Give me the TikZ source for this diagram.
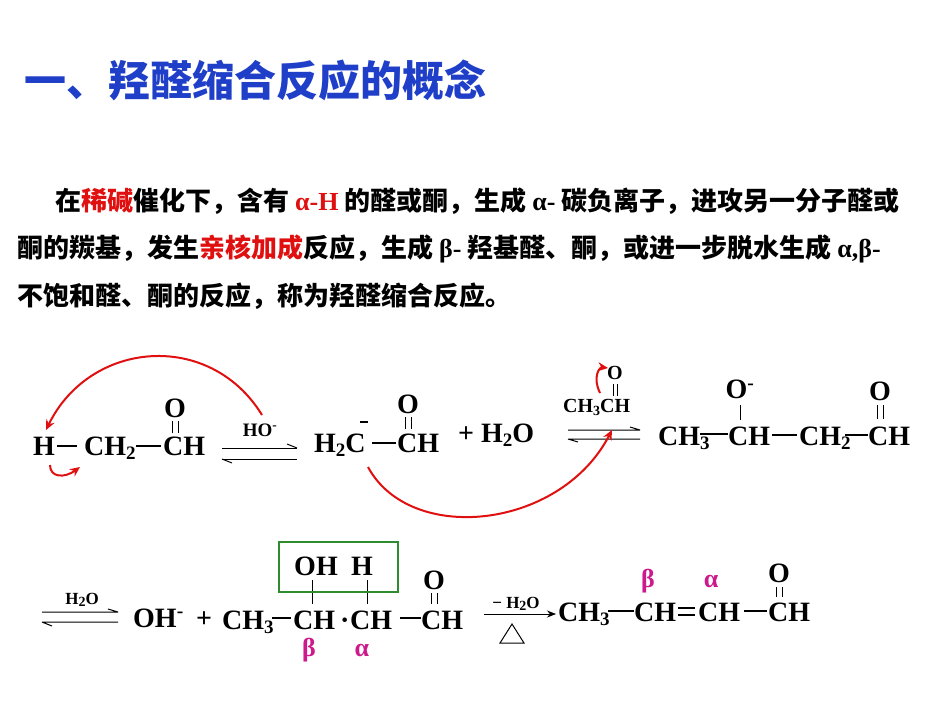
\documentclass[tikz,border=0pt]{standalone}
\usepackage{fontspec}
\setmainfont{Liberation Serif}
\newfontfamily\cjk{Noto Sans CJK SC}
\usetikzlibrary{arrows.meta}
\definecolor{ttl}{HTML}{1F3FC8}
\definecolor{rd}{HTML}{E01010}
\definecolor{mg}{HTML}{CC1A8C}
\definecolor{gbox}{HTML}{2E8B2E}
\newcommand{\lsub}[1]{\raisebox{-0.35ex}{\fontsize{19}{19}\selectfont #1}}
\newcommand{\ssub}[1]{\raisebox{-0.35ex}{\fontsize{14}{14}\selectfont #1}}
\begin{document}
\begin{tikzpicture}[x=1pt,y=-1pt,
  f/.style={anchor=base west,inner sep=0pt,font=\fontsize{28}{28}\selectfont\bfseries},
  fc/.style={anchor=center,inner sep=0pt,font=\fontsize{28}{28}\selectfont\bfseries},
  gr/.style={anchor=center,inner sep=0pt,font=\fontsize{26}{26}\selectfont\bfseries,text=mg},
  para/.style={anchor=base west,inner sep=0pt,font=\cjk\fontsize{26}{26}\selectfont\bfseries},
  bd/.style={line width=2pt},
  thin/.style={line width=1pt},
  rarr/.style={rd,line width=2pt,-{Stealth[length=10pt,width=9pt]}}]
\useasboundingbox (0,0) rectangle (950,713);
\fill[white] (0,0) rectangle (950,713);
\node[anchor=base west,inner sep=0pt,text=ttl,font=\cjk\fontsize{42}{42}\selectfont\bfseries] (title) at (24,96) {一、羟醛缩合反应的概念};
\node[para] (p1) at (55,210) {在\textcolor{rd}{稀碱}催化下，含有 \textcolor{rd}{\rmfamily α-H} 的醛或酮，生成 {\rmfamily α-} 碳负离子，进攻另一分子醛或};
\node[para] (p2) at (17,257) {酮的羰基，发生\textcolor{rd}{亲核加成}反应，生成 {\rmfamily β-} 羟基醛、酮，或进一步脱水生成 {\rmfamily α,β-}};
\node[para] (p3) at (17,305) {不饱和醛、酮的反应，称为羟醛缩合反应。};
% row 1
\node[f] (h1) at (33,455) {H};
\draw[bd] (57,446) -- (77,446);
\node[f] (ch2a) at (84,455) {CH\lsub{2}};
\draw[bd] (136,446) -- (161,446);
\node[f] (cha) at (163,455) {CH};
\node[fc] (oa) at (175,408) {O};
\draw[thin] (172,421) -- (172,433) (178,421) -- (178,433);
\node[anchor=base,inner sep=0pt,font=\fontsize{19}{19}\selectfont\bfseries] (ho) at (260,436) {HO\textsuperscript{-}};
\draw[thin] (222,448) -- (297,448);
\draw[thin] (287,444) -- (297,448);
\draw[thin] (222,459) -- (297,459);
\draw[thin] (222,459) -- (232,463);
\node[f] (h2c) at (314,452) {H\lsub{2}C};
\draw[bd] (360,422) -- (368,422);
\draw[bd] (372,443) -- (396,443);
\node[f] (chb) at (397,452) {CH};
\node[fc] (ob) at (408,404) {O};
\draw[thin] (405,417) -- (405,429) (411,417) -- (411,429);
\node[f] (h2o) at (458,442) {+ H\lsub{2}O};
\node[anchor=base west,inner sep=0pt,font=\fontsize{20}{20}\selectfont\bfseries] (ch3ch) at (563,412) {CH\ssub{3}CH};
\node[anchor=center,inner sep=0pt,font=\fontsize{20}{20}\selectfont\bfseries] (oc) at (615,373) {O};
\draw[thin] (613,384) -- (613,396) (617,384) -- (617,396);
\draw[thin] (568,430) -- (640,430) (630,427) -- (640,430);
\draw[thin] (568,439) -- (640,439) (568,439) -- (578,442);
\node[f] (ch3b) at (658,445) {CH\lsub{3}};
\draw[bd] (700,434) -- (728,434);
\node[f] (chc) at (728,445) {CH};
\node[fc] (om) at (740,389) {O\textsuperscript{-}};
\draw[thin] (740,405) -- (740,420);
\draw[bd] (772,435) -- (797,435);
\node[f] (ch2c) at (799,445) {CH\lsub{2}};
\draw[bd] (845,435) -- (868,435);
\node[f] (chd) at (868,445) {CH};
\node[fc] (od) at (880,391) {O};
\draw[thin] (877,405) -- (877,419) (883,405) -- (883,419);
% red arrows
\draw[rarr] (262,415) .. controls (210,330) and (90,340) .. (46,430);
\draw[rarr] (50,465) .. controls (50,478) and (65,478) .. (80,467);
\draw[rarr] (368,467) .. controls (410,545) and (560,530) .. (612,430);
\draw[rarr] (600,393) .. controls (592,376) and (600,367) .. (608,368);
% row 2
\node[anchor=base,inner sep=0pt,font=\fontsize{17}{17}\selectfont\bfseries] (h2ob) at (82,604) {H\ssub{2}O};
\draw[thin] (42,612) -- (118,612) (108,609) -- (118,612);
\draw[thin] (42,622) -- (118,622) (42,622) -- (52,626);
\node[f] (ohm) at (133,627) {OH\textsuperscript{-}};
\node[f] (plus) at (196,627) {+};
\node[f] (ch3c) at (222,629) {CH\lsub{3}};
\draw[bd] (272,618) -- (291,618);
\node[f] (che) at (293,629) {CH};
\node[f] (dot) at (340,629) {·};
\node[f] (chf) at (350,629) {CH};
\draw[bd] (400,618) -- (421,618);
\node[f] (chg) at (421,629) {CH};
\node[fc] (og) at (434,580) {O};
\draw[thin] (431,593) -- (431,604) (437,593) -- (437,604);
\node[fc] (oh) at (316,566) {OH};
\node[fc] (hh) at (362,566) {H};
\draw[thin] (312,580) -- (312,604) (367,580) -- (367,604);
\draw[gbox,line width=2.5pt] (279,542) rectangle (398,592);
\node[gr] (b1) at (309,650) {β};
\node[gr] (a1) at (362,650) {α};
\node[anchor=base,inner sep=0pt,font=\fontsize{17}{17}\selectfont\bfseries] (mh2o) at (516,608) {− H\ssub{2}O};
\draw[thin,-{Stealth[length=9pt,width=7pt]}] (484,614) -- (556,614);
\draw[thin] (500,643) -- (524,643) -- (512,624) -- cycle;
\node[f] (ch3d) at (558,621) {CH\lsub{3}};
\draw[bd] (608,611) -- (634,611);
\node[f] (chh) at (634,621) {CH};
\draw[bd] (678,608) -- (695,608) (678,615) -- (695,615);
\node[f] (chi) at (698,621) {CH};
\draw[bd] (744,611) -- (767,611);
\node[f] (chj) at (768,621) {CH};
\node[fc] (oj) at (779,573) {O};
\draw[thin] (776,587) -- (776,597) (782,587) -- (782,597);
\node[gr] (b2) at (648,581) {β};
\node[gr] (a2) at (711,581) {α};
\end{tikzpicture}
\end{document}
